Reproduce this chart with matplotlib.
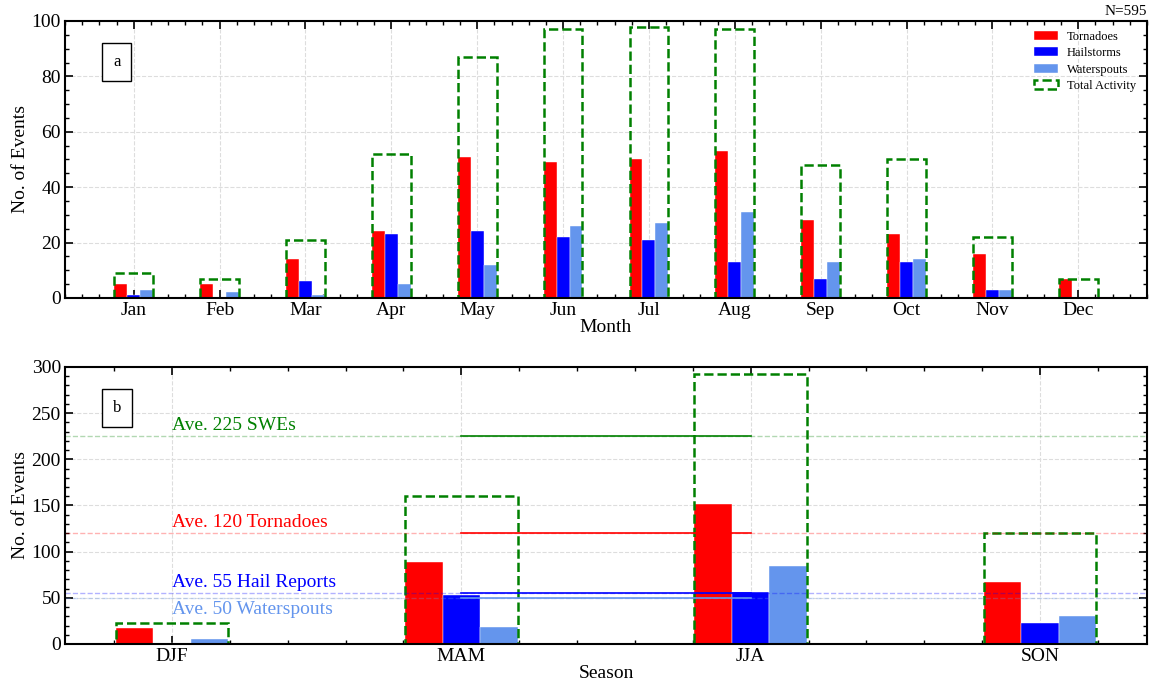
import matplotlib
matplotlib.use("Agg")
import matplotlib.pyplot as plt
import numpy as np

plt.rcParams['font.family'] = ['Liberation Serif', 'DejaVu Serif']

months = ["Jan", "Feb", "Mar", "Apr", "May", "Jun", "Jul", "Aug", "Sep", "Oct", "Nov", "Dec"]
tornadoes = [5, 5, 14, 24, 51, 49, 50, 53, 28, 23, 16, 7]
hailstorms = [1, 0, 6, 23, 24, 22, 21, 13, 7, 13, 3, 0]
waterspouts = [3, 2, 1, 5, 12, 26, 27, 31, 13, 14, 3, 0]

seasons = ["DJF", "MAM", "JJA", "SON"]
s_tornadoes = [17, 89, 152, 67]
s_hailstorms = [1, 53, 56, 23]
s_waterspouts = [5, 18, 84, 30]

avg_vals = [225, 120, 55, 50]
avg_labels = ["Ave. 225 SWEs", "Ave. 120 Tornadoes", "Ave. 55 Hail Reports", "Ave. 50 Waterspouts"]
avg_colors = ["green", "red", "blue", "cornflowerblue"]

c_t, c_h, c_w = "#ff0000", "#0000ff", "#6495ed"

fig = plt.figure(figsize=(11.51, 6.88), dpi=100)
ax1 = fig.add_axes([0.0565, 0.5669, 0.94, 0.4026])
ax2 = fig.add_axes([0.0565, 0.064, 0.94, 0.4026])


def style(ax):
    ax.tick_params(which='both', direction='in', top=True, right=True, labelsize=14, pad=3)
    ax.tick_params(which='major', length=6, width=1.2)
    ax.tick_params(which='minor', length=3, width=1)
    for s in ax.spines.values():
        s.set_linewidth(1.5)
    ax.grid(True, which='major', color='#dddddd', linestyle='--', linewidth=0.8)
    ax.set_axisbelow(True)


# panel a
x = np.arange(len(months))
w = 0.15
tot = np.array(tornadoes) + np.array(hailstorms) + np.array(waterspouts)
ax1.bar(x - w, tornadoes, w, color=c_t, edgecolor='white', linewidth=0.3, label="Tornadoes")
ax1.bar(x, hailstorms, w, color=c_h, edgecolor='white', linewidth=0.3, label="Hailstorms")
ax1.bar(x + w, waterspouts, w, color=c_w, edgecolor='white', linewidth=0.3, label="Waterspouts")
ax1.bar(x, tot, 3 * w, fill=False, edgecolor='green', linestyle='--', linewidth=1.8, label="Total Activity")
ax1.set_xlim(-0.8, 11.8)
ax1.set_ylim(0, 100)
ax1.set_xticks(x)
ax1.set_xticklabels(months)
ax1.set_xticks(np.arange(-0.8, 11.81, 0.2), minor=True)
ax1.set_yticks(np.arange(0, 101, 20))
ax1.set_yticks(np.arange(0, 101, 5), minor=True)
ax1.set_xlabel("Month", fontsize=14, labelpad=0)
ax1.set_ylabel("No. of Events", fontsize=14, labelpad=2)
style(ax1)
ax1.legend(loc='upper right', fontsize=9, frameon=False, handlelength=1.9, handletextpad=0.7,
           labelspacing=0.35, bbox_to_anchor=(1.0, 1.005))
ax1.text(0.048, 0.852, "a", transform=ax1.transAxes, ha='center', va='center', fontsize=12,
         bbox=dict(boxstyle='square,pad=0.65', facecolor='white', edgecolor='black'))
ax1.text(1.0, 1.01, "N=595", transform=ax1.transAxes, ha='right', va='bottom', fontsize=11)

# panel b
xs = np.arange(len(seasons))
ws = 0.13
stot = np.array(s_tornadoes) + np.array(s_hailstorms) + np.array(s_waterspouts)
for v, lab, col in zip(avg_vals, avg_labels, avg_colors):
    ax2.axhline(v, color=col, linestyle='--', linewidth=1, alpha=0.3)
    ax2.plot([1, 2], [v, v], color=col, linewidth=1.2)
ax2.bar(xs - ws, s_tornadoes, ws, color=c_t, edgecolor='white', linewidth=0.3)
ax2.bar(xs, s_hailstorms, ws, color=c_h, edgecolor='white', linewidth=0.3)
ax2.bar(xs + ws, s_waterspouts, ws, color=c_w, edgecolor='white', linewidth=0.3)
ax2.bar(xs, stot, 3 * ws, fill=False, edgecolor='green', linestyle='--', linewidth=1.8)
for v, lab, col in zip(avg_vals, avg_labels, avg_colors):
    if v == 50:
        ax2.text(0, v - 3, lab, color=col, fontsize=14, ha='left', va='top')
    else:
        ax2.text(0, v + 2, lab, color=col, fontsize=14, ha='left', va='bottom')
ax2.set_xlim(-0.37, 3.37)
ax2.set_ylim(0, 300)
ax2.set_xticks(xs)
ax2.set_xticklabels(seasons)
ax2.set_xticks(np.arange(-0.2, 3.37, 0.2), minor=True)
ax2.set_yticks(np.arange(0, 301, 50))
ax2.set_yticks(np.arange(0, 301, 10), minor=True)
ax2.set_xlabel("Season", fontsize=14, labelpad=0)
ax2.set_ylabel("No. of Events", fontsize=14, labelpad=2)
style(ax2)
ax2.text(0.048, 0.852, "b", transform=ax2.transAxes, ha='center', va='center', fontsize=12,
         bbox=dict(boxstyle='square,pad=0.65', facecolor='white', edgecolor='black'))

fig.savefig("out.png", dpi=100)
